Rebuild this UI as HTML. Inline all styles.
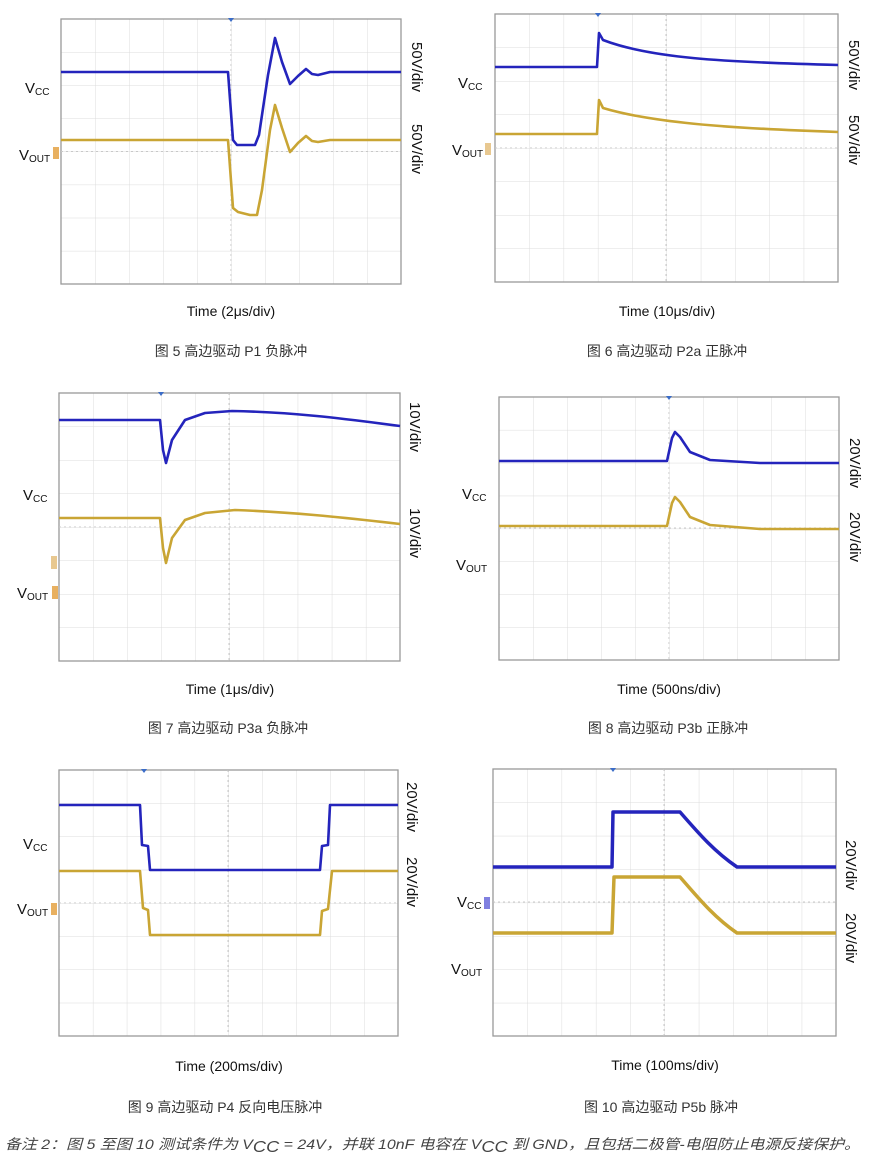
<!DOCTYPE html>
<html><head><meta charset="utf-8"><style>
body{margin:0;background:#fff;width:888px;height:1171px;overflow:hidden}
svg{display:block}
text{font-family:"Liberation Sans","Noto Sans CJK SC",sans-serif}
</style></head><body>
<svg width="888" height="1171" viewBox="0 0 888 1171" xmlns="http://www.w3.org/2000/svg">
<defs>
<pattern id="g1" x="61" y="19" width="34" height="33.125" patternUnits="userSpaceOnUse"><path d="M0 0V34M0 0H34" stroke="#dcdcdc" fill="none"/></pattern>
<pattern id="g2" x="495" y="14" width="34.3" height="33.5" patternUnits="userSpaceOnUse"><path d="M0 0V34M0 0H35" stroke="#dcdcdc" fill="none"/></pattern>
<pattern id="g3" x="59" y="393" width="34.1" height="33.5" patternUnits="userSpaceOnUse"><path d="M0 0V34M0 0H35" stroke="#dcdcdc" fill="none"/></pattern>
<pattern id="g4" x="499" y="397" width="34" height="32.9" patternUnits="userSpaceOnUse"><path d="M0 0V34M0 0H34" stroke="#dcdcdc" fill="none"/></pattern>
<pattern id="g5" x="59" y="770" width="33.9" height="33.25" patternUnits="userSpaceOnUse"><path d="M0 0V34M0 0H34" stroke="#dcdcdc" fill="none"/></pattern>
<pattern id="g6" x="493" y="769" width="34.3" height="33.4" patternUnits="userSpaceOnUse"><path d="M0 0V34M0 0H35" stroke="#dcdcdc" fill="none"/></pattern>
</defs>
<g stroke="#999" stroke-width="1.3">
<rect x="61" y="19" width="340" height="265" fill="url(#g1)"/>
<rect x="495" y="14" width="343" height="268" fill="url(#g2)"/>
<rect x="59" y="393" width="341" height="268" fill="url(#g3)"/>
<rect x="499" y="397" width="340" height="263" fill="url(#g4)"/>
<rect x="59" y="770" width="339" height="266" fill="url(#g5)"/>
<rect x="493" y="769" width="343" height="267" fill="url(#g6)"/>
</g>
<g stroke="#c8c8c8" stroke-dasharray="2 3" fill="none">
<path d="M231 19V284M61 151.5H401"/>
<path d="M666 14V282M495 148H838"/>
<path d="M229 393V661M59 527H400"/>
<path d="M669 397V660M499 528H839"/>
<path d="M228 770V1036M59 903H398"/>
<path d="M664 769V1036M493 902H836"/>
</g>
<g fill="none" stroke-width="2.6" stroke-linejoin="round">
<path stroke="#2424bc" d="M61 72H228L233 140L237 145H255L259 135L268 75L275 38L282 62L290 84L298 76L306 69L312 74L318 75L330 72H401"/>
<path stroke="#c9a534" d="M61 140H228L233 208L238 212L250 215H257L262 190L270 130L275 105L282 128L290 152L298 143L306 136L312 141L318 142L330 140H401"/>
<path stroke="#2424bc" d="M495 67H597L599 33L603 40C650 58 720 62 838 65"/>
<path stroke="#c9a534" d="M495 134H597L599 100L603 108C650 122 720 128 838 132"/>
<path stroke="#2424bc" d="M59 420H160L163 450L166 463L172 440L185 420L205 413L232 411C290 412 340 418 400 426"/>
<path stroke="#c9a534" d="M59 518H160L163 548L166 563L172 538L185 520L205 513L235 510C290 512 340 517 400 524"/>
<path stroke="#2424bc" d="M499 461H667L672 438L675 432L680 437L690 452L710 460L760 463H839"/>
<path stroke="#c9a534" d="M499 526H667L672 503L675 497L680 502L690 517L710 525L760 529H839"/>
<path stroke="#2424bc" d="M59 805H140L142 845L148 846L150 870H320L322 846L328 845L330 805H398"/>
<path stroke="#c9a534" d="M59 871H140L143 908L148 910L150 935H320L322 911L328 909L332 871H398"/>
<path stroke="#2424bc" stroke-width="3.5" d="M493 867H612L613 812H680C700 835 715 852 737 867H836"/>
<path stroke="#c9a534" stroke-width="3.5" d="M493 933H612L614 877H680C700 900 715 918 737 933H836"/>
</g>
<g fill="#3a6cc8">
<path d="M228 18h6l-3 4z"/><path d="M595 13h6l-3 4z"/><path d="M158 392h6l-3 4z"/><path d="M666 396h6l-3 4z"/><path d="M141 769h6l-3 4z"/><path d="M610 768h6l-3 4z"/>
</g>
<g fill="#e8b060"><rect x="53" y="147" width="6" height="12"/><rect x="52" y="586" width="6" height="13"/><rect x="51" y="556" width="6" height="13" fill="#e8c890"/><rect x="51" y="903" width="6" height="12"/><rect x="485" y="143" width="6" height="12" fill="#e8c890"/><rect x="484" y="897" width="6" height="12" fill="#8080e0"/></g>
<g font-size="15" fill="#111">
<text x="25" y="93">V<tspan font-size="10" dy="2">CC</tspan></text>
<text x="19" y="160">V<tspan font-size="10" dy="2">OUT</tspan></text>
<text x="458" y="88">V<tspan font-size="10" dy="2">CC</tspan></text>
<text x="452" y="155">V<tspan font-size="10" dy="2">OUT</tspan></text>
<text x="23" y="500">V<tspan font-size="10" dy="2">CC</tspan></text>
<text x="17" y="598">V<tspan font-size="10" dy="2">OUT</tspan></text>
<text x="462" y="499">V<tspan font-size="10" dy="2">CC</tspan></text>
<text x="456" y="570">V<tspan font-size="10" dy="2">OUT</tspan></text>
<text x="23" y="849">V<tspan font-size="10" dy="2">CC</tspan></text>
<text x="17" y="914">V<tspan font-size="10" dy="2">OUT</tspan></text>
<text x="457" y="907">V<tspan font-size="10" dy="2">CC</tspan></text>
<text x="451" y="974">V<tspan font-size="10" dy="2">OUT</tspan></text>
</g>
<g font-size="15" fill="#111">
<text transform="translate(412,42) rotate(90)">50V/div</text>
<text transform="translate(412,124) rotate(90)">50V/div</text>
<text transform="translate(849,40) rotate(90)">50V/div</text>
<text transform="translate(849,115) rotate(90)">50V/div</text>
<text transform="translate(410,402) rotate(90)">10V/div</text>
<text transform="translate(410,508) rotate(90)">10V/div</text>
<text transform="translate(850,438) rotate(90)">20V/div</text>
<text transform="translate(850,512) rotate(90)">20V/div</text>
<text transform="translate(407,782) rotate(90)">20V/div</text>
<text transform="translate(407,857) rotate(90)">20V/div</text>
<text transform="translate(846,840) rotate(90)">20V/div</text>
<text transform="translate(846,913) rotate(90)">20V/div</text>
</g>
<g font-size="14" fill="#111" text-anchor="middle">
<text x="231" y="316">Time (2μs/div)</text>
<text x="667" y="316">Time (10μs/div)</text>
<text x="230" y="694">Time (1μs/div)</text>
<text x="669" y="694">Time (500ns/div)</text>
<text x="229" y="1071">Time (200ms/div)</text>
<text x="665" y="1070">Time (100ms/div)</text>
</g>
<g font-size="14" fill="#333" text-anchor="middle">
<text x="231" y="356">图 5 高边驱动 P1 负脉冲</text>
<text x="667" y="356">图 6 高边驱动 P2a 正脉冲</text>
<text x="228" y="733">图 7 高边驱动 P3a 负脉冲</text>
<text x="668" y="733">图 8 高边驱动 P3b 正脉冲</text>
<text x="225" y="1112">图 9 高边驱动 P4 反向电压脉冲</text>
<text x="661" y="1112">图 10 高边驱动 P5b 脉冲</text>
</g>
<text x="5" y="1149" font-size="14" font-style="italic" fill="#444" textLength="855" lengthAdjust="spacingAndGlyphs">备注 2：图 5 至图 10 测试条件为 V<tspan font-size="16" dy="3">CC</tspan><tspan dy="-3"> = 24V，并联 10nF 电容在 V</tspan><tspan font-size="16" dy="3">CC</tspan><tspan dy="-3"> 到 GND，且包括二极管-电阻防止电源反接保护。</tspan></text>
</svg>
</body></html>
